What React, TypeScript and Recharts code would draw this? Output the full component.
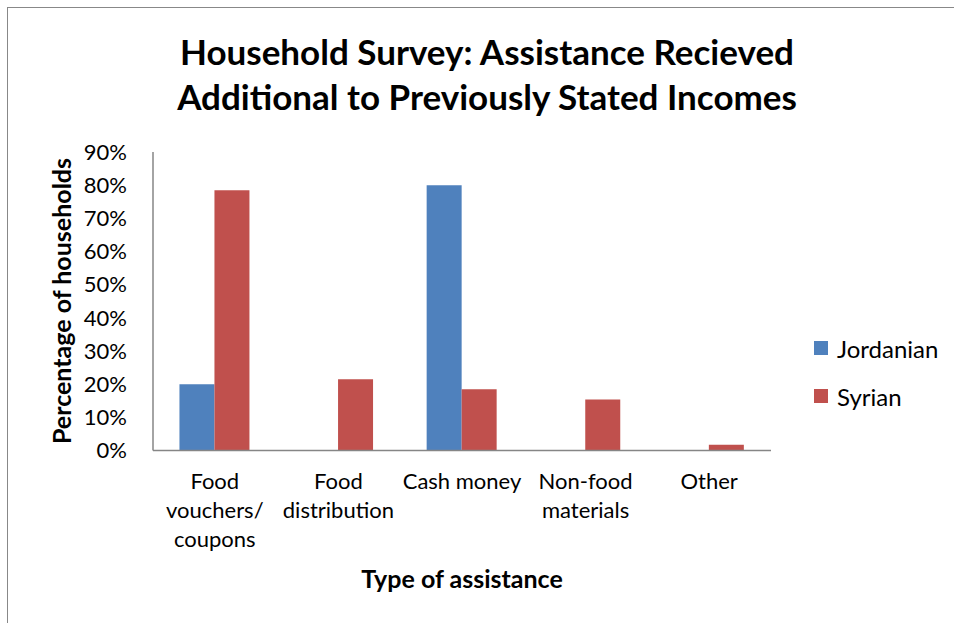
import React from 'react'
import { BarChart, Bar, XAxis, YAxis, Legend } from 'recharts'

// ---- data ----
const categories = ['Food\nvouchers/\ncoupons', 'Food\ndistribution', 'Cash money', 'Non-food\nmaterials', 'Other']
const jordanian = [0.2, 0, 0.8, 0, 0]
const syrian = [0.785, 0.215, 0.185, 0.154, 0.017]
const yTicks = [0, 0.1, 0.2, 0.3, 0.4, 0.5, 0.6, 0.7, 0.8, 0.9]

const FONT = 'Lato, "Open Sans", sans-serif'
const BLUE = '#4f81bd'
const RED = '#c0504d'
const AXIS = '#868686'

const data = categories.map((name, i) => ({ name, Jordanian: jordanian[i], Syrian: syrian[i] }))

function CategoryTick(props: any) {
  const { x, y, payload } = props
  const lines = String(payload.value).split('\n')
  return (
    <text x={x} y={y} textAnchor="middle" fill="#000" fontFamily={FONT} fontSize={22}>
      {lines.map((l, i) => (
        <tspan key={i} x={x} dy={i === 0 ? 30 : 29}>{l}</tspan>
      ))}
    </text>
  )
}

function LegendBox() {
  const items = [
    { label: 'Jordanian', color: BLUE },
    { label: 'Syrian', color: RED },
  ]
  return (
    <div style={{ position: 'absolute', left: 814, top: 324, fontFamily: FONT, fontSize: 24 }}>
      {items.map((it) => (
        <div key={it.label} style={{ display: 'flex', alignItems: 'center', height: 48 }}>
          <span style={{ width: 14, height: 14, background: it.color, marginRight: 9 }} />
          <span>{it.label}</span>
        </div>
      ))}
    </div>
  )
}

export default function App() {
  return (
    <div style={{ position: 'absolute', left: 0, top: 0, width: 954, height: 623, background: '#fff', fontFamily: FONT }}>
      <div style={{ position: 'absolute', left: 7, top: 7, right: 0, bottom: 0, borderTop: '1px solid #888', borderLeft: '1px solid #888' }} />
      <div style={{ position: 'absolute', left: 0, top: 29, width: 974, textAlign: 'center', fontWeight: 700, fontSize: 35, lineHeight: '45px' }}>
        Household Survey: Assistance Recieved<br />Additional to Previously Stated Incomes
      </div>
      <div style={{ position: 'absolute', left: 462, top: 578, transform: 'translate(-50%, -50%)', fontWeight: 700, fontSize: 25, whiteSpace: 'nowrap' }}>
        Type of assistance
      </div>
      <div style={{ position: 'absolute', left: 61, top: 301, transform: 'translate(-50%, -50%) rotate(-90deg)', fontWeight: 700, fontSize: 25, whiteSpace: 'nowrap' }}>
        Percentage of households
      </div>
      <BarChart
        width={954}
        height={623}
        data={data}
        margin={{ top: 152, right: 183, left: 0, bottom: 0 }}
        barCategoryGap="21.4%"
        barGap={0}
        style={{ position: 'absolute', left: 0, top: 0 }}
      >
        <XAxis
          dataKey="name"
          interval={0}
          tickLine={false}
          axisLine={{ stroke: AXIS, strokeWidth: 1.5 }}
          tick={<CategoryTick />}
          height={172.5}
        />
        <YAxis
          domain={[0, 0.9]}
          ticks={yTicks}
          tickFormatter={(v: number) => `${Math.round(v * 100)}%`}
          tickLine={false}
          axisLine={{ stroke: AXIS, strokeWidth: 1.5 }}
          tick={{ fill: '#000', fontSize: 22, fontFamily: FONT }}
          width={153}
          tickMargin={20}
        />
        <Bar dataKey="Jordanian" fill={BLUE} isAnimationActive={false} />
        <Bar dataKey="Syrian" fill={RED} isAnimationActive={false} />
        <Legend content={() => null} />
      </BarChart>
      <LegendBox />
    </div>
  )
}
